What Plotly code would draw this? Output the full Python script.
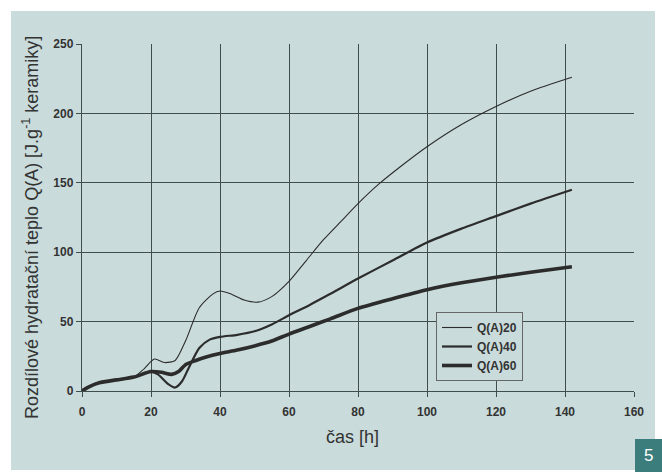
import plotly.graph_objects as go

# Data
x20 = [0, 2, 5, 10, 15, 18, 21, 24, 27, 30, 34, 38, 40, 43, 47, 51, 55, 60, 65, 70, 75, 80, 86, 93, 100, 110, 120, 130, 142]
y20 = [0, 3, 6, 8, 10, 16, 23, 20.5, 22, 36, 60, 70, 72, 70, 65.5, 64, 68, 79, 94, 109, 122, 135, 149, 163, 176, 192, 205, 216, 226]

x40 = [0, 2, 5, 10, 15, 20, 22, 25, 27, 29, 31, 34, 37, 40, 45, 50, 55, 60, 66, 72, 80, 90, 100, 110, 120, 130, 142]
y40 = [0, 3, 6, 8, 10, 14, 12, 5, 2.5, 7, 17, 31, 37, 39, 40.5, 43, 48, 54.5, 62, 70, 81, 94, 107, 117, 126, 135, 145]

x60 = [0, 2, 5, 10, 15, 20, 23, 26, 28, 30, 33, 36, 40, 45, 50, 55, 60, 66, 72, 80, 90, 100, 110, 120, 130, 142]
y60 = [0, 3, 6, 8, 10, 14, 13.5, 12, 14, 19, 22, 24.5, 27, 29.5, 32.5, 36, 41, 46.5, 52, 59.5, 66.5, 73, 78, 82, 85.5, 89.5]

series_names = ["Q(A)20", "Q(A)40", "Q(A)60"]
x_ticks = [0, 20, 40, 60, 80, 100, 120, 140, 160]
y_ticks = [0, 50, 100, 150, 200, 250]

W, H = 662, 472
L, R, T, B = 82, 28, 44, 81
pw, ph = W - L - R, H - T - B

def px(xp):
    return (xp - L) / pw

def py(yp):
    return (H - B - yp) / ph

panel = "#c9dbdb"
line_col = "#2c2c2c"
grid_col = "#3f4d4d"

fig = go.Figure()
for xs, ys, name, w in [(x20, y20, series_names[0], 1.1),
                        (x40, y40, series_names[1], 2.2),
                        (x60, y60, series_names[2], 3.6)]:
    fig.add_trace(go.Scatter(x=xs, y=ys, name=name, mode="lines",
                             line=dict(color=line_col, width=w, shape="spline", smoothing=0.7)))

fig.update_layout(
    width=W, height=H,
    margin=dict(l=L, r=R, t=T, b=B),
    paper_bgcolor="white",
    plot_bgcolor=panel,
    font=dict(family="Arial, Liberation Sans, sans-serif", color="#333333"),
    showlegend=True,
    legend=dict(x=px(436), y=py(312), xanchor="left", yanchor="top",
                bgcolor=panel, bordercolor="#666666", borderwidth=1,
                font=dict(size=12, weight="bold", color="#333333"),
                tracegroupgap=0, itemwidth=30),
    shapes=[
        dict(type="rect", xref="paper", yref="paper", layer="below",
             x0=px(11), x1=px(655), y0=py(470), y1=py(11),
             fillcolor=panel, line=dict(width=0)),
        dict(type="rect", xref="paper", yref="paper", layer="above",
             x0=px(635), x1=px(662), y0=py(472), y1=py(439),
             fillcolor="#3b7d7d", line=dict(width=0)),
    ],
    annotations=[
        dict(text="5", xref="paper", yref="paper", x=px(648.5), y=py(455.5),
             showarrow=False, font=dict(size=17, color="white"), xanchor="center", yanchor="middle"),
        dict(text="Rozdílové hydratační teplo Q(A) [J.g<sup>-1</sup> keramiky]",
             xref="paper", yref="paper", x=px(30), y=py(228), textangle=-90,
             showarrow=False, font=dict(size=18, color="#333333"),
             xanchor="center", yanchor="middle"),
        dict(text="čas [h]", xref="paper", yref="paper", x=px(352), y=py(437),
             showarrow=False, font=dict(size=18, color="#333333"),
             xanchor="center", yanchor="middle"),
    ],
)

fig.update_xaxes(range=[0, 160], tickvals=x_ticks, ticktext=[str(v) for v in x_ticks],
                 showgrid=True, gridcolor=grid_col, gridwidth=1.4,
                 showline=True, linecolor=grid_col, linewidth=1.4,
                 ticks="outside", ticklen=5, tickcolor=grid_col,
                 ticklabelstandoff=4,
                 tickfont=dict(size=12, weight="bold", color="#333333"),
                 zeroline=False, mirror=False)
fig.update_yaxes(range=[0, 250], tickvals=y_ticks, ticktext=[str(v) for v in y_ticks],
                 showgrid=True, gridcolor=grid_col, gridwidth=1.4,
                 showline=True, linecolor=grid_col, linewidth=1.4,
                 ticks="outside", ticklen=5, tickcolor=grid_col,
                 tickfont=dict(size=12, weight="bold", color="#333333"),
                 zeroline=False)

fig.write_html("out.html")
